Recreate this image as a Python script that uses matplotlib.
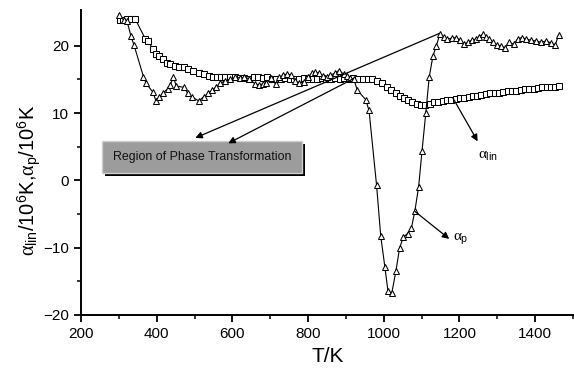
import matplotlib
matplotlib.use("Agg")
import matplotlib.pyplot as plt
from matplotlib.patches import Rectangle
from matplotlib.transforms import offset_copy

plt.rcParams['font.family'] = ['Liberation Sans', 'DejaVu Sans']
plt.rcParams['mathtext.fontset'] = 'custom'
plt.rcParams['mathtext.rm'] = 'Liberation Sans'
plt.rcParams['mathtext.it'] = 'Liberation Serif'
plt.rcParams['mathtext.bf'] = 'Liberation Sans:bold'

# alpha_p (triangles)
T_p = [300, 313, 322, 332, 340, 365, 372, 390, 398, 407, 416, 429, 436, 444, 452,
       473, 482, 493, 511, 524, 535, 546, 558, 568, 581, 595, 608, 620, 632, 644,
       660, 670, 680, 690, 703, 714, 724, 734, 745, 756, 765, 776, 788, 800, 810,
       819, 828, 840, 849, 858, 870, 881, 894, 903, 912, 921, 930, 952, 961,
       981, 992, 1003, 1011, 1021, 1032, 1042, 1052, 1063, 1073, 1082, 1092, 1101,
       1111, 1120, 1130, 1139, 1148, 1158, 1168, 1180, 1191, 1202, 1211, 1222,
       1232, 1244, 1252, 1261, 1270, 1279, 1288, 1299, 1310, 1320, 1332, 1343,
       1354, 1364, 1376, 1389, 1403, 1416, 1429, 1442, 1453, 1462]
a_p = [24.6, 23.8, 23.6, 21.4, 20.1, 15.4, 14.4, 13.1, 11.8, 12.4, 12.9, 13.6, 14.2, 15.3, 14.0,
       13.8, 12.9, 12.4, 11.8, 12.4, 12.9, 13.4, 13.9, 14.4, 14.8, 15.0, 15.3, 15.2, 15.3, 15.1,
       14.3, 14.2, 14.3, 14.4, 15.2, 14.3, 15.3, 15.6, 15.8, 15.6, 14.8, 14.5, 14.6, 15.4, 15.9,
       16.1, 15.9, 15.5, 15.4, 15.6, 15.9, 16.3, 15.8, 15.5, 15.2, 15.0, 13.4, 12.0, 10.4,
       -0.75, -8.3, -12.9, -16.4, -16.8, -13.5, -10.0, -8.4, -7.9, -7.1, -4.6, -1.0, 4.3,
       10.0, 15.3, 18.5, 20.0, 21.7, 21.3, 21.0, 21.1, 21.2, 20.8, 20.2, 20.5,
       20.8, 21.0, 21.3, 21.7, 21.3, 21.0, 20.5, 20.1, 19.9, 19.7, 20.5, 20.2,
       21.0, 21.2, 21.0, 20.8, 20.7, 20.5, 20.7, 20.4, 20.1, 21.6]

# alpha_lin (squares)
T_lin = [303, 312, 321, 331, 343, 370, 377, 390, 399, 407, 416, 427, 436, 449, 460,
         471, 484, 497, 511, 524, 537, 548, 559, 570, 581, 595, 608, 620, 632, 644,
         656, 668, 680, 692, 704, 716, 728, 740, 752, 764, 776, 788, 800, 812, 824,
         836, 848, 860, 872, 884, 896, 908, 920, 932, 945, 958, 970, 983, 996, 1008,
         1019, 1032, 1043, 1054, 1064, 1075, 1087, 1098, 1110, 1121, 1133, 1144, 1156,
         1167, 1178, 1190, 1201, 1213, 1224, 1236, 1247, 1258, 1270, 1281, 1293, 1304,
         1316, 1327, 1339, 1350, 1362, 1373, 1385, 1396, 1408, 1419, 1430, 1442, 1453, 1462]
a_lin = [23.8, 23.8, 23.9, 24.0, 24.0, 21.0, 20.7, 19.5, 18.8, 18.5, 18.0, 17.5, 17.3, 17.0, 16.9,
         16.8, 16.6, 16.3, 16.0, 15.8, 15.5, 15.4, 15.4, 15.3, 15.3, 15.3, 15.3, 15.2, 15.2, 15.1,
         15.3, 15.3, 15.2, 15.3, 15.1, 15.0, 15.1, 15.2, 15.1, 15.0, 15.1, 15.2, 15.1, 15.0, 15.1,
         15.2, 15.1, 15.1, 15.2, 15.1, 15.2, 15.1, 15.2, 15.1, 15.1, 15.0, 15.0, 14.8, 14.4, 13.9,
         13.4, 12.9, 12.5, 12.2, 11.9, 11.6, 11.4, 11.2, 11.2, 11.4, 11.6, 11.7, 11.8,
         11.9, 12.0, 12.1, 12.2, 12.3, 12.4, 12.5, 12.6, 12.7, 12.8, 12.9, 12.9, 13.0,
         13.1, 13.2, 13.3, 13.3, 13.4, 13.5, 13.6, 13.6, 13.7, 13.8, 13.8, 13.9, 13.9, 14.0]

x_ticks = [200, 400, 600, 800, 1000, 1200, 1400]
y_ticks = [-20, -10, 0, 10, 20]

fig = plt.figure(figsize=(5.74, 3.68), dpi=100)
ax = fig.add_axes([81/574, 53/368, 492/574, 305/368])

ax.plot(T_lin, a_lin, color='black', lw=0.8, marker='s', ms=4.3, mfc='white',
        mec='black', mew=0.75)
ax.plot(T_p, a_p, color='black', lw=0.8, marker='^', ms=5.0, mfc='white',
        mec='black', mew=0.75)

ax.set_xlim(200, 1500)
ax.set_ylim(-20, 25.3)
ax.set_xticks(x_ticks)
ax.set_yticks(y_ticks)
ax.set_xticks(range(300, 1501, 200), minor=True)
ax.set_yticks([-15, -5, 5, 15], minor=True)
for s in ['top', 'right']:
    ax.spines[s].set_visible(False)
for s in ['left', 'bottom']:
    ax.spines[s].set_linewidth(1.4)
ax.tick_params(which='major', direction='out', length=5, width=1.3, labelsize=11)
ax.tick_params(which='minor', direction='out', length=3, width=1.1)

ax.set_xlabel('T/K', fontsize=15)
ax.set_ylabel(r'$\alpha_{\mathrm{lin}}$/10$^{6}$K,$\alpha_{\mathrm{p}}$/10$^{6}$K', fontsize=14.5)
ax.xaxis.label.set_va('center')
ax.yaxis.label.set_va('center')
ax.xaxis.set_label_coords((328 - 81) / 492, (315 - 357) / 305)
ax.yaxis.set_label_coords((29 - 81) / 492, (315 - 180) / 305)

# Region box with shadow
bx0, bx1, by0, by1 = 255, 783, 1.1, 5.8
sh = offset_copy(ax.transData, fig=fig, x=3, y=-3, units='dots')
ax.add_patch(Rectangle((bx0, by0), bx1 - bx0, by1 - by0, transform=sh,
                       facecolor='black', edgecolor='none', zorder=4))
ax.add_patch(Rectangle((bx0, by0), bx1 - bx0, by1 - by0, facecolor='#9c9c9c',
                       edgecolor='#cfcfcf', lw=1.0, zorder=5))
ax.text((bx0 + bx1) / 2, (by0 + by1) / 2, 'Region of Phase Transformation',
        ha='center', va='center', fontsize=8.9, color='#111111', zorder=6)

arr = dict(arrowstyle='-|>', mutation_scale=10, lw=0.9, color='black',
           shrinkA=0, shrinkB=0)
ax.annotate('', xy=(502, 6.3), xytext=(1146, 21.8), arrowprops=arr, zorder=7)
ax.annotate('', xy=(589, 5.5), xytext=(920, 15.1), arrowprops=arr, zorder=7)
ax.annotate('', xy=(1248, 5.8), xytext=(1182, 12.3), arrowprops=arr, zorder=7)
ax.annotate('', xy=(1173, -8.7), xytext=(1082, -4.6), arrowprops=arr, zorder=7)

ax.text(1250, 3.6, r'$\alpha_{\mathrm{lin}}$', fontsize=11, ha='left', va='center')
ax.text(1182, -8.6, r'$\alpha_{\mathrm{p}}$', fontsize=11, ha='left', va='center')

fig.savefig('out.png', dpi=100)
